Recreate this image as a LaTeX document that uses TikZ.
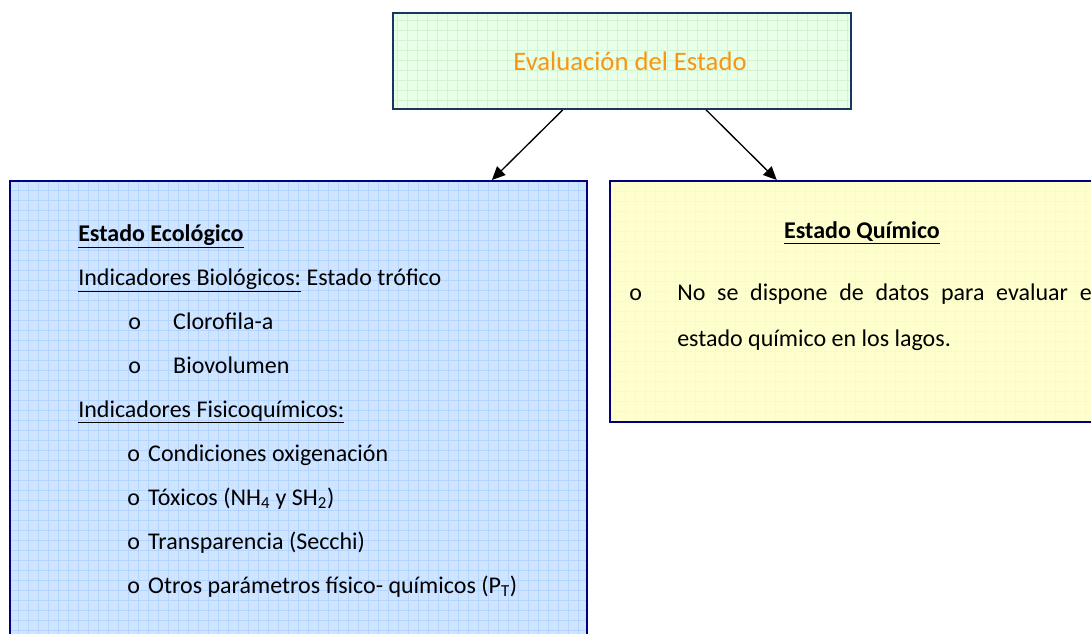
\documentclass[tikz,border=0pt]{standalone}
\usepackage{fontspec}
\setmainfont{Carlito}
\usepackage{tikz}
\usetikzlibrary{positioning,calc,arrows.meta}
\usepackage{xcolor}
\definecolor{ecofill}{RGB}{206,228,255}
\definecolor{ecogrid}{RGB}{180,213,255}
\definecolor{quimfill}{RGB}{255,255,206}
\definecolor{quimgrid}{RGB}{255,255,160}
\definecolor{evalfill}{RGB}{232,255,232}
\definecolor{evalgrid}{RGB}{210,244,210}
\definecolor{navyline}{RGB}{0,0,128}
\definecolor{evalline}{RGB}{23,55,94}
\definecolor{evaltext}{RGB}{247,150,20}
\tikzset{
  gridbox/.style={draw=#1line, fill=#1fill, line width=1.5pt, inner sep=0,
    path picture={\draw[#1grid, line width=0.6pt] (path picture bounding box.south west) grid[step=7.5pt] (path picture bounding box.north east);}},
  txt/.style={anchor=base west, inner sep=0, font=\fontsize{18}{21}\selectfont},
  flecha/.style={-{Triangle[length=10pt,width=9pt]}, line width=1pt}
}
\colorlet{ecoline}{navyline}
\colorlet{quimline}{navyline}
\newcommand{\bulA}{\makebox[33.75pt][l]{o}}
\newcommand{\bulB}{\makebox[15.75pt][l]{o}}

\begin{document}
\begin{tikzpicture}[x=0.75pt,y=-0.75pt]
\useasboundingbox (0,0) rectangle (1091,633);
% cajas
\node (eval) at (622,61) [gridbox=eval, minimum width=343.5pt, minimum height=72pt, text=evaltext, font=\fontsize{20}{24}\selectfont] {\hspace*{12pt}Evaluación del Estado};
\node (eco) at (298.5,410.5) [gridbox=eco, minimum width=432.75pt, minimum height=344.25pt] {};
\node (quim) at (855,301.5) [gridbox=quim, minimum width=367.5pt, minimum height=180.75pt] {};
% estado ecologico
\node (ecotit) at (78,241) [txt] {\underline{\textbf{Estado Ecológico}}};
\node (bio) at (78,285) [txt] {\underline{Indicadores Biológicos:} Estado trófico};
\node (clor) at (128,329) [txt] {\bulA Clorofila-a};
\node (biov) at (128,373) [txt] {\bulA Biovolumen};
\node (fis) at (78,417) [txt] {\underline{Indicadores Fisicoquímicos:}};
\node (oxig) at (127,461) [txt] {\bulB Condiciones oxigenación};
\node (tox) at (127,505) [txt] {\bulB Tóxicos (NH\textsubscript{4} y SH\textsubscript{2})};
\node (secc) at (127,549) [txt] {\bulB Transparencia (Secchi)};
\node (otros) at (127,593) [txt] {\bulB Otros parámetros físico- químicos (P\textsubscript{T})};
% estado quimico
\node (quimtit) at (862,238) [txt, anchor=base] {\underline{\textbf{Estado Químico}}};
\node (qbul) at (629,300) [txt] {o};
\node (qlin1) at (677,300) [txt] {\makebox[315pt][s]{No se dispone de datos para evaluar el}};
\node (qlin2) at (677,346) [txt] {estado químico en los lagos.};
% flechas
\draw[flecha] ($(eval.south west)!0.371!(eval.south east)$) -- ($(eco.north west)!0.834!(eco.north east)$);
\draw[flecha] ($(eval.south west)!0.683!(eval.south east)$) -- ($(quim.north west)!0.341!(quim.north east)$);
\end{tikzpicture}
\end{document}
